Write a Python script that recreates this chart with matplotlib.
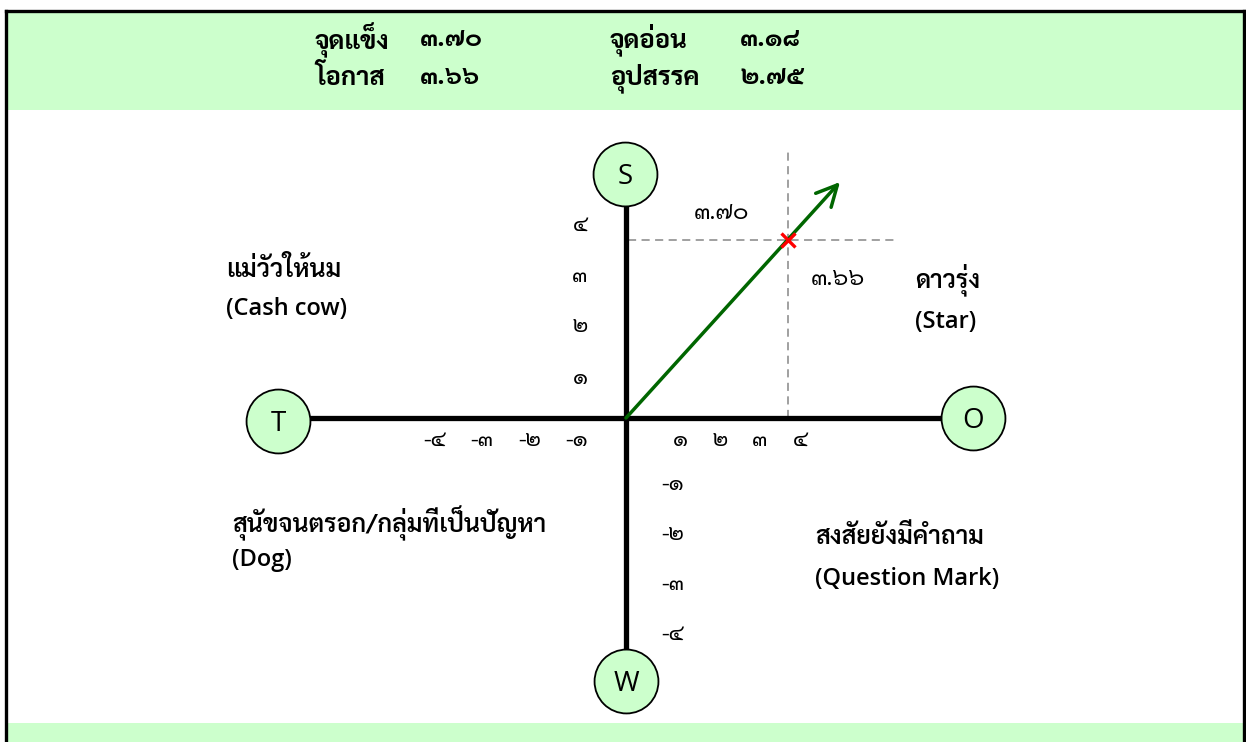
import matplotlib
matplotlib.use("Agg")
import matplotlib.pyplot as plt
from matplotlib import font_manager as fm
from matplotlib.patches import Rectangle

# ---------------- data ----------------
summary_labels = ["จุดแข็ง", "จุดอ่อน", "โอกาส", "อุปสรรค"]
summary_values = ["๓.๗๐", "๓.๑๘", "๓.๖๖", "๒.๗๕"]
strength = 3.70      # S axis (vertical)
opportunity = 3.66   # O axis (horizontal)
pos_ticks = ["๑", "๒", "๓", "๔"]
neg_ticks = ["-๑", "-๒", "-๓", "-๔"]
axis_letters = ["S", "W", "O", "T"]
quadrants = [
    ("ดาวรุ่ง", "(Star)"),
    ("แม่วัวให้นม", "(Cash cow)"),
    ("สุนัขจนตรอก/กลุ่มที่เป็นปัญหา", "(Dog)"),
    ("สงสัยยังมีคำถาม", "(Question Mark)"),
]

# ---------------- fonts ----------------
available = set(f.name for f in fm.fontManager.ttflist)
thai = None
for cand in ["Sarabun", "IBM Plex Sans Thai Looped", "Noto Sans Thai Looped",
             "IBM Plex Sans Thai", "Noto Sans Thai", "Anuphan", "Loma"]:
    if cand in available:
        thai = cand
        break
fams = ([thai] if thai else []) + ["Open Sans", "DejaVu Sans"]
latin = ["Open Sans", "Noto Sans", "DejaVu Sans"]

GREEN_BG = "#ccffcc"

# ---------------- figure ----------------
W, H = 1246, 742
fig = plt.figure(figsize=(W / 100, H / 100), dpi=100)
fig.patch.set_facecolor("white")

def fx(px):
    return px / W

def fy(py):
    return 1 - py / H

fig.patches.append(Rectangle((fx(6), fy(110)), fx(1244) - fx(6), fy(12) - fy(110),
                             transform=fig.transFigure, facecolor=GREEN_BG, edgecolor="none", zorder=0))
fig.patches.append(Rectangle((fx(6), 0), fx(1244) - fx(6), fy(723),
                             transform=fig.transFigure, facecolor=GREEN_BG, edgecolor="none", zorder=0))
for (x0, y0, x1, y1) in [(6, 11, 1244, 11), (6, 11, 6, 742), (1244, 11, 1244, 742)]:
    fig.add_artist(plt.Line2D([fx(x0), fx(x1)], [fy(y0), fy(y1)], transform=fig.transFigure,
                              color="black", lw=2.4, zorder=1))

# summary text
sum_pos = [(315, 420, 40), (610, 740, 40), (315, 420, 78), (610, 740, 78)]
for (lab, val), (xl, xv, yy) in zip(zip(summary_labels, summary_values), sum_pos):
    fig.text(fx(xl), fy(yy), lab, family=fams, fontsize=18.5, fontweight="bold",
             ha="left", va="center")
    fig.text(fx(xv), fy(yy), val, family=fams, fontsize=18.5, fontweight="bold",
             ha="left", va="center")

# ---------------- main axes ----------------
ax = fig.add_axes([0, 0, 1, 1])
ax.set_facecolor("none")
ox, oy = 626, 418          # origin in pixels
sx, sy = 44.3, 48.1        # pixels per unit
ax.set_xlim(-ox / sx, (W - ox) / sx)
ax.set_ylim(-(H - oy) / sy, oy / sy)
ax.axis("off")

def ux(px):
    return (px - ox) / sx

def uy(py):
    return (oy - py) / sy

ax.plot([ux(308), ux(944)], [0, 0], color="black", lw=3.8, solid_capstyle="butt", zorder=2)
ax.plot([0, 0], [uy(204), uy(650)], color="black", lw=3.8, solid_capstyle="butt", zorder=2)

circ_pos = {"S": (625, 174), "W": (626, 681), "O": (973, 418), "T": (278, 421)}
for letter in axis_letters:
    cx, cy = circ_pos[letter]
    ax.plot([ux(cx)], [uy(cy)], marker="o", markersize=46, markerfacecolor=GREEN_BG,
            markeredgecolor="black", markeredgewidth=1.3, zorder=4)
    ax.text(ux(cx), uy(cy + 3), letter, family=latin, fontsize=20, ha="center",
            va="center", zorder=5)

ax.plot([0.05, ux(896)], [strength, strength], color="#999999", lw=1.3,
        dashes=(4.5, 3), zorder=1)
ax.plot([opportunity, opportunity], [0, uy(148)], color="#999999", lw=1.3,
        dashes=(4.5, 3), zorder=1)

ax.annotate("", xy=(ux(840), uy(182)), xytext=(0, 0),
            arrowprops=dict(arrowstyle="->,head_length=1.5,head_width=0.75",
                            color="#006600", lw=2.5, shrinkA=0, shrinkB=0), zorder=3)
ax.plot([opportunity], [strength], marker="x", color="red", markersize=10,
        markeredgewidth=2.4, zorder=5)

ax.text(ux(722), uy(213), summary_values[0], family=fams, fontsize=17, ha="center", va="center")
ax.text(ux(838), uy(279), summary_values[2], family=fams, fontsize=17, ha="center", va="center")

for i, t in enumerate(pos_ticks):
    ax.text(ux(680 + 40 * i), uy(440), t, family=fams, fontsize=16, ha="center", va="center")
    ax.text(ux(580), uy(378 - 51 * i), t, family=fams, fontsize=16, ha="center", va="center")
for i, t in enumerate(neg_ticks):
    ax.text(ux(577 - 47.5 * i), uy(440), t, family=fams, fontsize=16, ha="center", va="center")
    ax.text(ux(673), uy(484 + 50 * i), t, family=fams, fontsize=16, ha="center", va="center")

quad_pos = [(915, 280, 322), (226, 270, 309), (232, 523, 560), (815, 538, 579)]
for (th, en), (qx, qy1, qy2) in zip(quadrants, quad_pos):
    ax.text(ux(qx), uy(qy1), th, family=fams, fontsize=18, fontweight="semibold",
            ha="left", va="center")
    ax.text(ux(qx), uy(qy2), en, family=latin, fontsize=17, fontweight="semibold",
            ha="left", va="center")

fig.savefig("out.png", dpi=100, facecolor="white")
